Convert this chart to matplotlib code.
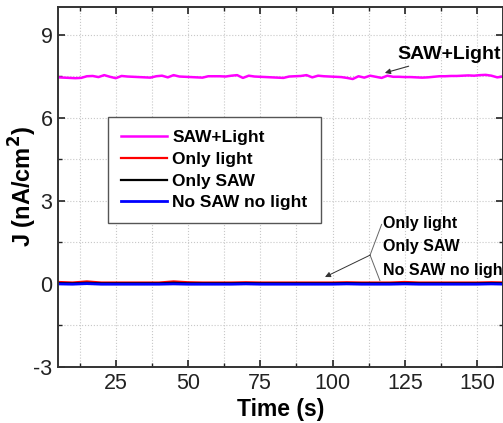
import numpy as np
import matplotlib
matplotlib.use('Agg')
import matplotlib.pyplot as plt
from matplotlib.ticker import MultipleLocator

plt.rcParams['font.family'] = ['Liberation Sans', 'DejaVu Sans']
plt.rcParams['axes.unicode_minus'] = False

# SAW + light, sampled every 2 s
saw_time = np.arange(5, 162, 2)
saw_light = [
    7.46, 7.45, 7.44, 7.43, 7.44, 7.50, 7.51, 7.47, 7.54, 7.48,
    7.43, 7.51, 7.49, 7.48, 7.47, 7.46, 7.45, 7.50, 7.52, 7.46,
    7.54, 7.49, 7.48, 7.47, 7.46, 7.45, 7.50, 7.50, 7.50, 7.49,
    7.52, 7.54, 7.44, 7.52, 7.49, 7.48, 7.47, 7.46, 7.45, 7.44,
    7.49, 7.50, 7.51, 7.54, 7.46, 7.52, 7.50, 7.49, 7.48, 7.47,
    7.44, 7.40, 7.50, 7.45, 7.52, 7.48, 7.44, 7.52, 7.48, 7.48,
    7.47, 7.47, 7.46, 7.45, 7.46, 7.48, 7.50, 7.50, 7.51, 7.51,
    7.52, 7.53, 7.52, 7.54, 7.55, 7.52, 7.46, 7.49, 7.50,
]

# dark-ish curves, sampled every 5 s
dark_time = np.arange(5, 161, 5)
only_light = [
    0.07, 0.05, 0.09, 0.05, 0.05, 0.05, 0.05, 0.05, 0.09, 0.06,
    0.05, 0.05, 0.05, 0.06, 0.05, 0.05, 0.05, 0.05, 0.05, 0.05,
    0.06, 0.05, 0.05, 0.05, 0.07, 0.05, 0.05, 0.05, 0.05, 0.05,
    0.06, 0.05,
]
only_saw = [
    0.03, 0.02, 0.04, 0.02, 0.02, 0.02, 0.02, 0.02, 0.04, 0.02,
    0.02, 0.02, 0.02, 0.03, 0.02, 0.02, 0.02, 0.02, 0.02, 0.02,
    0.03, 0.02, 0.02, 0.02, 0.03, 0.02, 0.02, 0.02, 0.02, 0.02,
    0.03, 0.02,
]
no_saw_no_light = [
    0.00, -0.01, 0.01, -0.01, -0.01, -0.01, -0.01, -0.01, 0.00, -0.01,
    -0.01, -0.01, -0.01, 0.00, -0.01, -0.01, -0.01, -0.01, -0.01, -0.01,
    0.00, -0.01, -0.01, -0.01, 0.00, -0.01, -0.01, -0.01, -0.01, -0.01,
    0.00, -0.01,
]

fig = plt.figure(figsize=(5.03, 4.23), dpi=100)
ax = fig.add_axes([0.1153, 0.1324, 0.8847, 0.851])

ax.plot(saw_time, saw_light, color='#ff00ff', lw=1.8, label='SAW+Light')
ax.plot(dark_time, only_light, color='#ff0000', lw=1.6, label='Only light')
ax.plot(dark_time, only_saw, color='#000000', lw=1.6, label='Only SAW')
ax.plot(dark_time, no_saw_no_light, color='#0000ff', lw=2.0, label='No SAW no light')

ax.set_xlim(5, 159)
ax.set_ylim(-3, 10)
ax.xaxis.set_major_locator(MultipleLocator(25))
ax.xaxis.set_minor_locator(MultipleLocator(12.5))
ax.yaxis.set_major_locator(MultipleLocator(3))
ax.yaxis.set_minor_locator(MultipleLocator(1.5))
ax.grid(which='both', color='#c8c8c8', linestyle=':', linewidth=0.8)
ax.set_axisbelow(True)

ax.tick_params(which='both', direction='in', top=True, right=True, labelsize=15.5, colors='#222222')
ax.tick_params(which='major', length=5, width=1.2, pad=4)
ax.tick_params(which='minor', length=3, width=1.0)
for s in ax.spines.values():
    s.set_linewidth(1.4)
    s.set_color('#333333')

ax.set_xlabel('Time (s)', fontsize=16.5, fontweight='bold', labelpad=3)
ax.set_ylabel('J (nA/cm$^\\mathbf{2}$)', fontsize=17, fontweight='bold', labelpad=-4)

leg = ax.legend(loc='upper left', bbox_to_anchor=(108 / 503, 1 - 117 / 423),
                bbox_transform=fig.transFigure, fancybox=False, framealpha=1,
                edgecolor='#555555', prop={'weight': 'bold', 'size': 12.5},
                handlelength=2.65, handletextpad=0.3, labelspacing=0.38,
                borderpad=0.75, borderaxespad=0)
leg.get_frame().set_linewidth(1.0)

ax.annotate('SAW+Light', xy=(118.1, 7.62), xytext=(122.3, 8.27),
            fontsize=14, fontweight='bold', va='center', ha='left',
            arrowprops=dict(arrowstyle='-|>', color='#333333', lw=0.8,
                            mutation_scale=8, shrinkA=0, shrinkB=0))

ax.text(117.3, 2.20, 'Only light', fontsize=11.5, fontweight='bold', va='center')
ax.text(117.3, 1.35, 'Only SAW', fontsize=11.5, fontweight='bold', va='center')
ax.text(117.3, 0.50, 'No SAW no light', fontsize=11.5, fontweight='bold', va='center', clip_on=False)

node = (113.0, 1.04)
ax.plot([node[0], 117.0], [node[1], 2.15], color='#666666', lw=0.7)
ax.plot([node[0], 116.4], [node[1], 0.12], color='#666666', lw=0.7)
ax.annotate('', xy=(97.4, 0.25), xytext=node,
            arrowprops=dict(arrowstyle='-|>', color='#333333', lw=0.7,
                            mutation_scale=8, shrinkA=0, shrinkB=0))

fig.savefig('out.png', dpi=100)
